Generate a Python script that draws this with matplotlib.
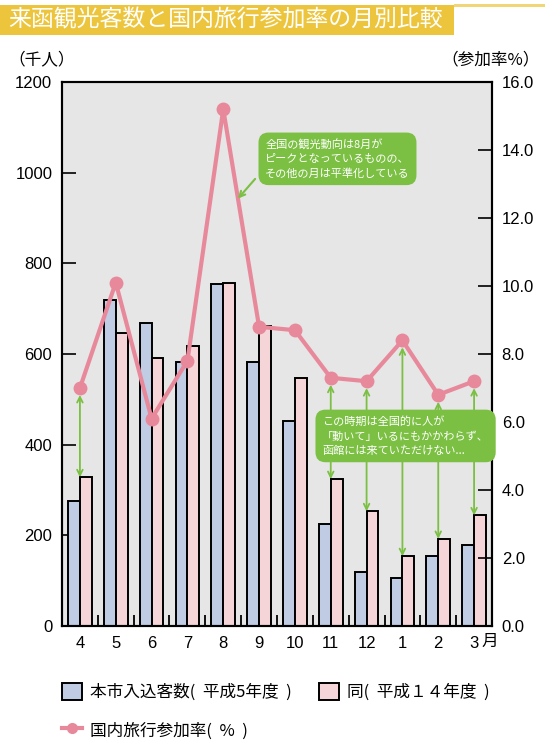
import numpy as np
import matplotlib.pyplot as plt
from matplotlib.patches import Rectangle, Patch
from matplotlib.lines import Line2D
from matplotlib.transforms import blended_transform_factory

plt.rcParams['font.family'] = ['Noto Sans CJK JP', 'DejaVu Sans']

months = ["4", "5", "6", "7", "8", "9", "10", "11", "12", "1", "2", "3"]
visitors_h5 = [275, 720, 668, 582, 755, 582, 453, 224, 119, 106, 155, 179]
visitors_h14 = [328, 646, 592, 618, 757, 662, 546, 324, 253, 154, 192, 244]
travel_rate = [7.0, 10.1, 6.1, 7.8, 15.2, 8.8, 8.7, 7.3, 7.2, 8.4, 6.8, 7.2]
arrow_months = ["4", "11", "12", "1", "2", "3"]

blue = "#c0cce4"
pink = "#f5d5d8"
line_col = "#e8899b"
green = "#7bbf43"
yellow = "#ecc53c"
num_font = "Liberation Sans"

W, H = 545, 753
fig = plt.figure(figsize=(W / 100, H / 100), dpi=100)
ax = fig.add_axes([62 / W, 1 - 626 / H, 430 / W, 544 / H])
ax2 = ax.twinx()

# bars (left axis, 千人)
x = np.arange(len(months))
bw = 0.33
ax.bar(x - bw / 2, visitors_h5, bw, color=blue, edgecolor="black", linewidth=1.4, zorder=2)
ax.bar(x + bw / 2, visitors_h14, bw, color=pink, edgecolor="black", linewidth=1.4, zorder=2)
ax.set_facecolor("#e6e6e6")
ax.set_xlim(-0.5, 11.5)
ax.set_ylim(0, 1200)
ax.set_yticks(range(0, 1201, 200))
ax.set_xticks(x, months)
ax.set_xticks(x[:-1] + 0.5, minor=True)
ax.tick_params(axis="x", which="major", length=0, pad=7, labelsize=12)
ax.tick_params(axis="x", which="minor", direction="in", length=8, width=1.3)
ax.tick_params(axis="y", direction="in", length=10, width=1.2, pad=7, labelsize=12)
for lab in ax.get_xticklabels() + ax.get_yticklabels():
    lab.set_family(num_font)
for s in ax.spines.values():
    s.set_linewidth(1.5)

# line (right axis, %)
ax2.plot(x, travel_rate, color=line_col, lw=3, marker="o", ms=9, zorder=3)
ax2.set_ylim(0, 16)
ax2.set_yticks(np.arange(0, 16.1, 2))
ax2.set_yticklabels([f"{v:.1f}" for v in np.arange(0, 16.1, 2)])
ax2.tick_params(axis="y", direction="in", length=10, width=1.2, pad=7, labelsize=12)
for lab in ax2.get_yticklabels():
    lab.set_family(num_font)
for s in ax2.spines.values():
    s.set_linewidth(1.5)

ax.text(11.45, -0.028, "月", transform=blended_transform_factory(ax.transData, ax.transAxes),
        ha="center", va="center", fontsize=12)

# green arrows between line and bars
for m in arrow_months:
    i = months.index(m)
    top = travel_rate[i]
    bottom = visitors_h14[i] / 1200 * 16
    ax2.annotate("", xy=(i, bottom), xytext=(i, top),
                 arrowprops=dict(arrowstyle="<->", color=green, lw=1.3,
                                 shrinkA=5, shrinkB=0, mutation_scale=10), zorder=2)

box = dict(boxstyle="round,pad=0.6,rounding_size=0.9", fc=green, ec="none")
ax2.text(5.17, 13.74, "全国の観光動向は8月が\nピークとなっているものの、\nその他の月は平準化している",
         ha="left", va="center", color="white", fontsize=8, linespacing=1.45, bbox=box, zorder=5)
ax2.annotate("", xy=(4.41, 12.57), xytext=(4.89, 13.15),
             arrowprops=dict(arrowstyle="->", color=green, lw=1.5, shrinkA=0, shrinkB=0))
ax2.text(6.76, 5.59, "この時期は全国的に人が\n「動いて」いるにもかかわらず、\n函館には来ていただけない...",
         ha="left", va="center", color="white", fontsize=8, linespacing=1.45, bbox=box, zorder=5)

# title band
fig.add_artist(Rectangle((0, 1 - 35 / H), 454 / W, 30 / H, transform=fig.transFigure,
                         color=yellow, lw=0))
fig.add_artist(Rectangle((454 / W, 1 - 6.5 / H), (W - 454) / W, 2.5 / H, transform=fig.transFigure,
                         color=yellow, alpha=0.7, lw=0))
fig.text(8 / W, 1 - 20 / H, "来函観光客数と国内旅行参加率の月別比較", color="white",
         fontsize=16.5, ha="left", va="center")

fig.text(8 / W, 1 - 60 / H, "（千人）", fontsize=12, ha="left", va="center")
fig.text(540 / W, 1 - 60 / H, "（参加率%）", fontsize=12, ha="right", va="center")

handles = [
    Patch(facecolor=blue, edgecolor="black", linewidth=1.4, label="本市入込客数(  平成5年度  )"),
    Line2D([], [], color=line_col, lw=3, marker="o", ms=7, label="国内旅行参加率(  %  )"),
    Patch(facecolor=pink, edgecolor="black", linewidth=1.4, label="同(  平成１４年度  )"),
]
fig.legend(handles=handles, loc="upper left", bbox_to_anchor=(47 / W, 1 - 668 / H), ncol=2,
           frameon=False, fontsize=12, handlelength=1.2, handleheight=1.2, handletextpad=0.5,
           columnspacing=1.6, labelspacing=1.2)

fig.savefig("out.png", dpi=100)
